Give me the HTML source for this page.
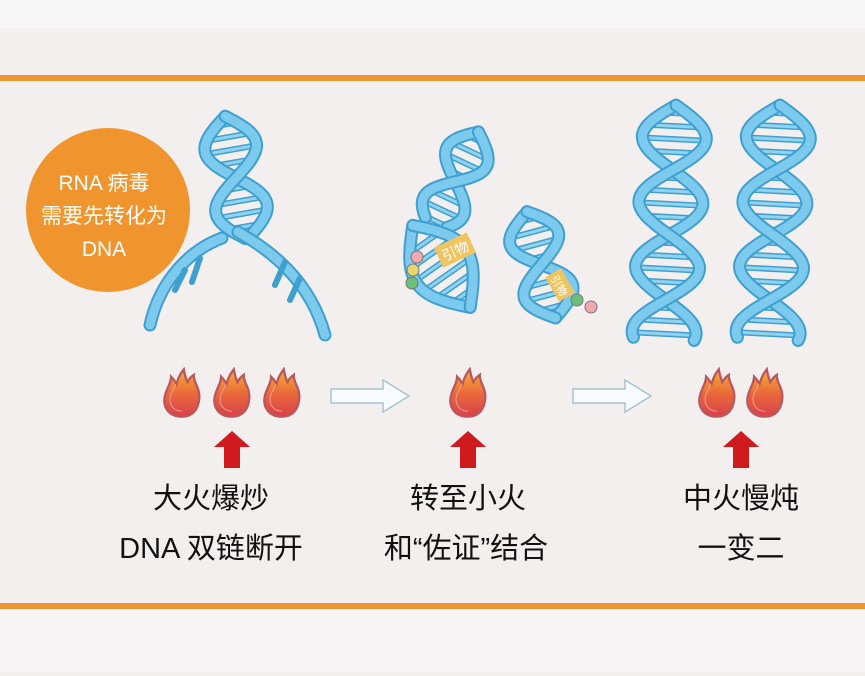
<!DOCTYPE html>
<html><head><meta charset="utf-8"><style>
html,body{margin:0;padding:0;}
body{width:865px;height:671px;overflow:hidden;background:#f3efee;font-family:"Liberation Sans","Noto Sans CJK SC",sans-serif;}
</style></head><body>
<svg id="s" width="865" height="671" xmlns="http://www.w3.org/2000/svg">
<defs>
<linearGradient id="fl" x1="0" y1="0" x2="0" y2="1">
<stop offset="0" stop-color="#f5b133"/><stop offset="0.5" stop-color="#ea6a3a"/><stop offset="1" stop-color="#d8404a"/>
</linearGradient>
<symbol id="flame" viewBox="-22 -30 44 56">
<path d="M0,24 C-16,24 -21,12 -19,2 C-17,-8 -12,-12 -12,-20 C-8,-16 -7,-14 -6,-12 C-4,-20 -1,-24 2,-28 C3,-22 4,-18 6,-14 C8,-18 10,-20 13,-22 C12,-14 20,-8 19,4 C18,16 12,24 0,24 Z" fill="url(#fl)" stroke="#b8585e" stroke-width="2.5"/>
<path d="M0,18 C-10,18 -14,10 -13,3 C-12,-4 -8,-6 -7,-12" fill="none" stroke="#f6a0a0" stroke-width="1"/>
</symbol>
</defs>
<rect x="0" y="0" width="865" height="28" fill="#f7f6f6"/>
<rect x="0" y="75" width="865" height="6" fill="#f0952e"/>
<rect x="0" y="603" width="865" height="6" fill="#f0952e"/>
<rect x="0" y="609" width="865" height="62" fill="#f6f4f4"/>
<circle cx="108" cy="210" r="82" fill="#f0952e"/>
<text x="104" y="190" font-size="21" fill="#fff" text-anchor="middle">RNA 病毒</text>
<text x="104" y="223" font-size="21" fill="#fff" text-anchor="middle">需要先转化为</text>
<text x="104" y="256" font-size="21" fill="#fff" text-anchor="middle">DNA</text>
<g id="dna"></g>
<g fill="none" stroke-linecap="round">
<path d="M222,238 C190,250 160,280 150,325" stroke="#3f9fcf" stroke-width="13"/>
<path d="M222,238 C190,250 160,280 150,325" stroke="#7ccbee" stroke-width="9"/>
<path d="M238,232 C270,250 310,280 325,335" stroke="#3f9fcf" stroke-width="13"/>
<path d="M238,232 C270,250 310,280 325,335" stroke="#7ccbee" stroke-width="9"/>
<path d="M185,270 L175,290 M200,258 L192,282 M285,262 L275,285 M300,278 L290,300" stroke="#3f9fcf" stroke-width="6"/>
</g>
<g transform="translate(455,250) rotate(-25)"><rect x="-18" y="-11" width="36" height="22" fill="#f0c45e"/><text x="0" y="6" font-size="14" fill="#fff" text-anchor="middle">引物</text></g>
<g transform="translate(560,285) rotate(60)"><rect x="-14" y="-9" width="28" height="18" fill="#f0c45e"/><text x="0" y="5" font-size="11" fill="#fff" text-anchor="middle">引物</text></g>
<circle cx="417" cy="257" r="6" fill="#f1a9b0" stroke="#777" stroke-width="1"/>
<circle cx="413" cy="270" r="6" fill="#e8d66c" stroke="#777" stroke-width="1"/>
<circle cx="412" cy="283" r="6" fill="#6cbf78" stroke="#777" stroke-width="1"/>
<circle cx="577" cy="300" r="6" fill="#6cbf78" stroke="#777" stroke-width="1"/>
<circle cx="591" cy="307" r="6" fill="#f1a9b0" stroke="#777" stroke-width="1"/>
<use href="#flame" x="162" y="367" width="40" height="52"/>
<use href="#flame" x="212" y="367" width="40" height="52"/>
<use href="#flame" x="262" y="367" width="40" height="52"/>
<use href="#flame" x="448" y="367" width="40" height="52"/>
<use href="#flame" x="697" y="367" width="40" height="52"/>
<use href="#flame" x="745" y="367" width="40" height="52"/>
<path d="M331,389 L383,389 L383,380 L409,396 L383,412 L383,403 L331,403 Z" fill="#f8fbfd" stroke="#a8c3d0" stroke-width="1.5"/>
<path d="M573,389 L625,389 L625,380 L651,396 L625,412 L625,403 L573,403 Z" fill="#f8fbfd" stroke="#a8c3d0" stroke-width="1.5"/>
<path d="M232,431 L250,447 L240,447 L240,468 L224,468 L224,447 L214,447 Z" fill="#cf1a1e"/>
<path d="M468,431 L486,447 L476,447 L476,468 L460,468 L460,447 L450,447 Z" fill="#cf1a1e"/>
<path d="M741,431 L759,447 L749,447 L749,468 L733,468 L733,447 L723,447 Z" fill="#cf1a1e"/>
<g font-size="29" fill="#111" text-anchor="middle">
<text x="211" y="508">大火爆炒</text>
<text x="211" y="558">DNA 双链断开</text>
<text x="468" y="508">转至小火</text>
<text x="466" y="558">和“佐证”结合</text>
<text x="741" y="508">中火慢炖</text>
<text x="741" y="558">一变二</text>
</g>
</svg>
<script>
var g=document.getElementById('dna');var NS='http://www.w3.org/2000/svg';
function helix(cx,y0,y1,amp,per,rot,rx,ry){
 var grp=document.createElementNS(NS,'g');
 if(rot)grp.setAttribute('transform','rotate('+rot+' '+rx+' '+ry+')');
 var a='',b='',r='';
 for(var y=y0;y<=y1;y+=2){var t=(y-y0)/per*2*Math.PI;
  a+=(y==y0?'M':'L')+(cx+amp*Math.sin(t)).toFixed(1)+','+y;
  b+=(y==y0?'M':'L')+(cx+amp*Math.sin(t+Math.PI)).toFixed(1)+','+y;}
 for(var y=y0+8;y<y1;y+=13){var t=(y-y0)/per*2*Math.PI;var x1=cx+amp*Math.sin(t),x2=cx-amp*Math.sin(t);
  if(Math.abs(x1-x2)>16) r+='M'+x1.toFixed(1)+','+y+'L'+x2.toFixed(1)+','+y;}
 function p(d,c,w){var e=document.createElementNS(NS,'path');e.setAttribute('d',d);e.setAttribute('fill','none');e.setAttribute('stroke',c);e.setAttribute('stroke-width',w);e.setAttribute('stroke-linecap','round');grp.appendChild(e);}
 p(r,'#3f9fcf',6);p(r,'#8fd3f0',3);
 p(b,'#3f9fcf',13);p(b,'#7ccbee',9);
 p(a,'#3f9fcf',13);p(a,'#7ccbee',9);
 g.appendChild(grp);
}
helix(240,115,240,26,125,-10,240,200);
helix(470,130,230,22,110,25,470,150);
helix(430,220,320,30,200,-35,430,250);
helix(540,210,320,25,110,-15,540,260);
helix(670,105,340,32,130,3,670,220);
helix(774,105,340,32,130,3,774,220);
</script>
</body></html>
